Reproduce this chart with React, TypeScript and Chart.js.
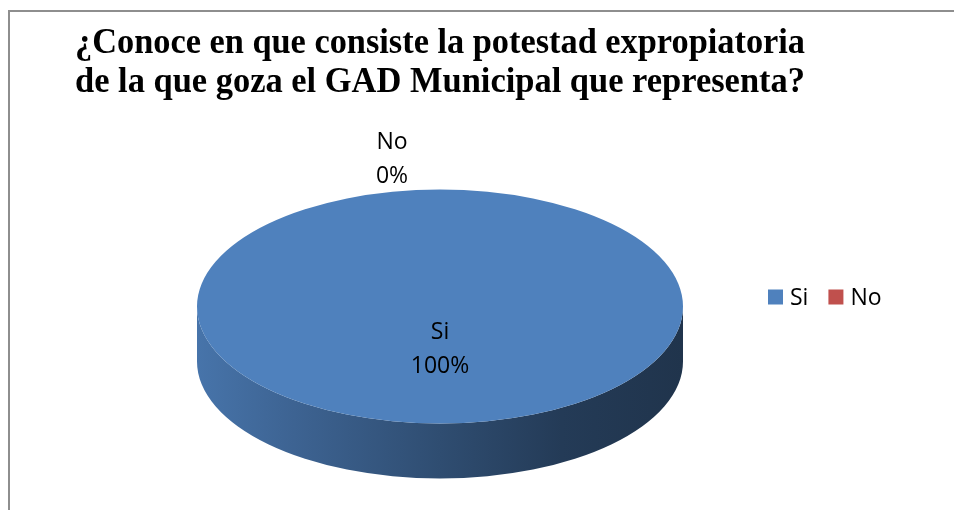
import React, { useEffect, useRef } from "react";
import { Chart, registerables } from "chart.js";

Chart.register(...registerables);

const titleLines = [
  "¿Conoce en que consiste la potestad expropiatoria",
  "de la que goza el GAD Municipal que representa?",
];
const categories = ["Si", "No"];
const percentages = [100, 0];
const sliceColors = ["#4F81BD", "#C0504D"];

const LABEL_FONT = '"Open Sans", "Noto Sans", sans-serif';

function shade(hex: string, f: number) {
  const n = parseInt(hex.slice(1), 16);
  const r = Math.round(((n >> 16) & 255) * f);
  const g = Math.round(((n >> 8) & 255) * f);
  const b = Math.round((n & 255) * f);
  return `rgb(${r},${g},${b})`;
}

const pie3d = {
  id: "pie3d",
  beforeDraw(chart: any) {
    const ctx = chart.ctx;
    ctx.save();
    ctx.fillStyle = "#ffffff";
    ctx.fillRect(0, 0, chart.width, chart.height);
    ctx.strokeStyle = "#8e8e8e";
    ctx.lineWidth = 2;
    ctx.strokeRect(9, 11, chart.width + 20, chart.height + 20);
    ctx.restore();
  },
  beforeDatasetsDraw(chart: any, _args: any, opts: any) {
    const ctx = chart.ctx;
    const meta = chart.getDatasetMeta(0);
    const first = meta.data[0];
    const { x, y, outerRadius: r } = first.getProps(["x", "y", "outerRadius"], true);
    const ry = r * opts.tilt;
    const d = r * opts.depth;
    const ds = chart.data.datasets[0];
    meta.data.forEach((arc: any, i: number) => {
      const { startAngle: s, endAngle: e } = arc.getProps(["startAngle", "endAngle"], true);
      if (e - s <= 0) return;
      const base = ds.backgroundColor[i];
      for (const k of [-2 * Math.PI, 0, 2 * Math.PI]) {
        const a = Math.max(s, k);
        const b = Math.min(e, k + Math.PI);
        if (b <= a) continue;
        const g = ctx.createLinearGradient(x - r, 0, x + r, 0);
        g.addColorStop(0, shade(base, 0.9));
        g.addColorStop(0.2, shade(base, 0.77));
        g.addColorStop(0.5, shade(base, 0.6));
        g.addColorStop(0.75, shade(base, 0.46));
        g.addColorStop(1, shade(base, 0.4));
        ctx.save();
        ctx.beginPath();
        ctx.ellipse(x, y, r, ry, 0, a, b);
        ctx.ellipse(x, y + d, r, ry, 0, b, a, true);
        ctx.closePath();
        ctx.fillStyle = g;
        ctx.fill();
        ctx.restore();
      }
    });
    ctx.save();
    ctx.translate(x, y);
    ctx.scale(1, opts.tilt);
    ctx.translate(-x, -y);
  },
  afterDatasetsDraw(chart: any, _args: any, opts: any) {
    const ctx = chart.ctx;
    ctx.restore();
    const meta = chart.getDatasetMeta(0);
    const ds = chart.data.datasets[0];
    ctx.save();
    ctx.fillStyle = "#000000";
    ctx.font = `${opts.labelSize}px ${LABEL_FONT}`;
    ctx.textAlign = "center";
    ctx.textBaseline = "middle";
    meta.data.forEach((arc: any, i: number) => {
      const { x, y, outerRadius: r, startAngle: s, endAngle: e } = arc.getProps(
        ["x", "y", "outerRadius", "startAngle", "endAngle"],
        true
      );
      const mid = (s + e) / 2;
      const inside = ds.data[i] >= 5;
      const f = inside ? opts.insideFactor : opts.outsideFactor;
      const dx = inside ? 0 : opts.outsideDx;
      const lx = x + Math.cos(mid) * f * r + dx;
      const ly = y + Math.sin(mid) * f * r * opts.tilt;
      const lines = [String(chart.data.labels[i]), `${ds.data[i]}%`];
      const gap = opts.lineGap;
      ctx.fillText(lines[0], lx, ly - gap / 2);
      ctx.fillText(lines[1], lx, ly + gap / 2);
    });
    ctx.restore();
  },
  afterDraw(chart: any, _args: any, opts: any) {
    const ctx = chart.ctx;
    const ds = chart.data.datasets[0];
    ctx.save();
    ctx.font = `${opts.labelSize}px ${LABEL_FONT}`;
    ctx.textAlign = "left";
    ctx.textBaseline = "middle";
    let lx = opts.legendX;
    const ly = opts.legendY;
    const box = opts.legendBox;
    chart.data.labels.forEach((lab: string, i: number) => {
      ctx.fillStyle = ds.backgroundColor[i];
      ctx.fillRect(lx, ly - box / 2, box, box);
      ctx.fillStyle = "#000000";
      ctx.fillText(lab, lx + box + 7, ly + 1);
      lx += box + 7 + ctx.measureText(lab).width + 20;
    });
    ctx.restore();
  },
};

export default function App() {
  const ref = useRef<HTMLCanvasElement | null>(null);
  useEffect(() => {
    document.body.style.margin = "0";
    if (!ref.current) return;
    const chart = new Chart(ref.current, {
      type: "pie",
      data: {
        labels: categories,
        datasets: [
          {
            data: percentages,
            backgroundColor: sliceColors,
            borderWidth: 0,
            radius: 243,
          },
        ],
      },
      options: {
        responsive: false,
        animation: false,
        events: [],
        layout: { padding: { left: 75, right: 149, top: 14, bottom: 8 } },
        plugins: {
          legend: { display: false },
          tooltip: { enabled: false },
          title: {
            display: true,
            text: titleLines,
            align: "start",
            color: "#000000",
            font: { family: '"Liberation Serif", "Times New Roman", serif', size: 35.5, weight: "bold", lineHeight: 1.1 },
            padding: { top: 10, bottom: 8.9 },
          },
          pie3d: {
            tilt: 0.4815,
            depth: 0.226,
            labelSize: 23,
            insideFactor: 0.37,
            outsideFactor: 1.26,
            outsideDx: -48,
            lineGap: 34,
            legendX: 768,
            legendY: 297,
            legendBox: 15,
          },
        } as any,
      },
      plugins: [pie3d],
    });
    return () => chart.destroy();
  }, []);
  return (
    <div style={{ width: 954, height: 510 }}>
      <canvas ref={ref} width={954} height={510} style={{ display: "block" }} />
    </div>
  );
}
